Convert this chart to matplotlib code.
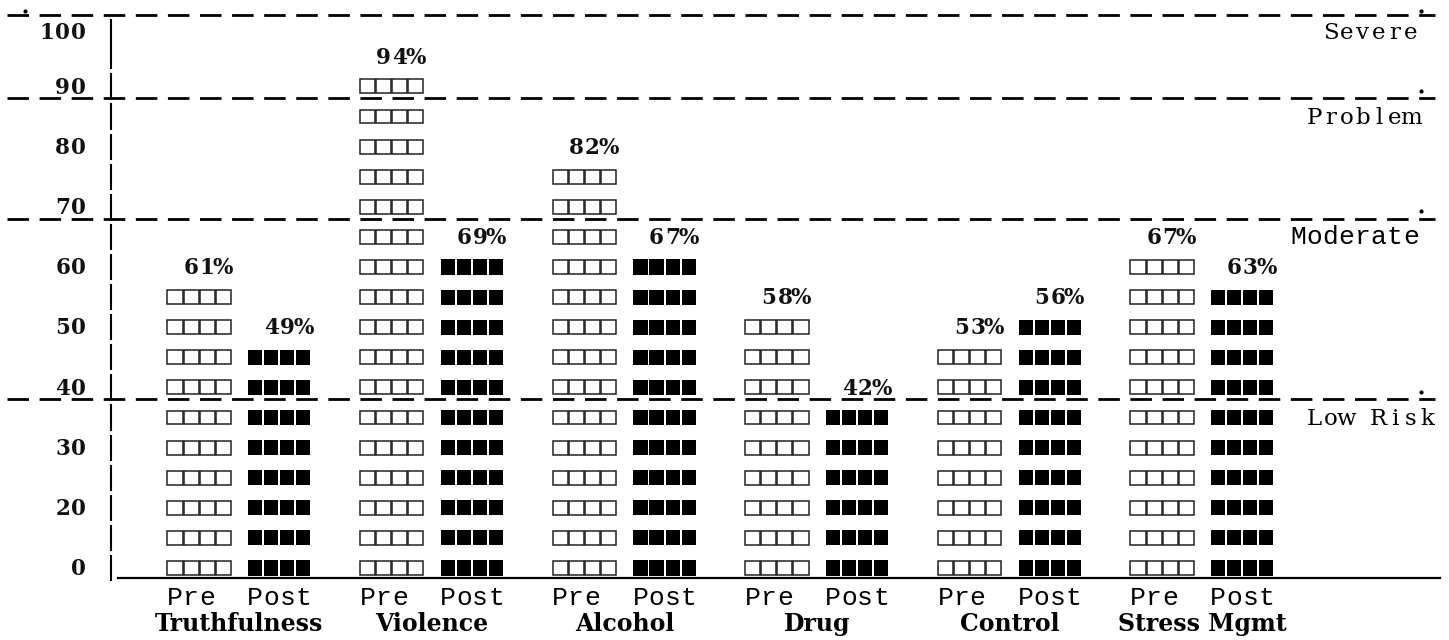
import matplotlib
matplotlib.use('Agg')
import matplotlib.pyplot as plt
from matplotlib.patches import Rectangle

# ── Data ─────────────────────────────────────────────────────
categories = ['Truthfulness', 'Violence', 'Alcohol', 'Drug', 'Control', 'Stress Mgmt']
pre_pct = [61, 94, 82, 58, 53, 67]
post_pct = [49, 69, 67, 42, 56, 63]
pre_boxes = [10, 17, 14, 9, 8, 11]     # box rows drawn for each bar
post_boxes = [8, 11, 11, 6, 9, 10]
tick_labels = ['0', '20', '30', '40', '50', '60', '70', '80', '90', '100']
tick_rows = [0, 2, 4, 6, 8, 10, 12, 14, 16, 18]
zone_labels = ['Severe', 'Problem', 'Moderate', 'Low Risk']
zone_rows = [18, 15, 11, 5]
cut_rows = [16, 12, 6]                  # dashed zone boundaries (90, 70, 40)

# ── Setup: one text cell = 1 x-unit, one text line = 1 y-unit ─
plt.rcParams['lines.scale_dashes'] = False
W, H = 1449, 640
CW, RH = 16.05, 30.1          # cell width / row height in pixels
X0, Y0 = 6.5, 568             # left edge of column 0, centre of row 0 (from top)

fig = plt.figure(figsize=(W / 100, H / 100), dpi=100)
ax = fig.add_axes([0, 0, 1, 1])
ax.set_xlim(-X0 / CW, (W - X0) / CW)
ax.set_ylim((Y0 - H) / RH, Y0 / RH)
ax.axis('off')

serif = dict(family='DejaVu Serif', fontsize=16.5, color='black')
nums = dict(family='DejaVu Serif', fontsize=15.5, fontweight='bold', color='#111111')
mono = dict(family='Liberation Mono', fontsize=19, color='black')
bold = dict(family='DejaVu Serif', fontsize=17, fontweight='bold', color='black')


def put(col, base, s, style):
    # one glyph per fixed-pitch cell, like a typed report
    for i, ch in enumerate(s):
        if ch != ' ':
            ax.text(col + i + 0.5, base, ch, ha='center', va='baseline', **style)


def rowy(r):
    # top text line sits a little lower than the regular pitch
    return 17.8 if r == 18 else r


def dot(x, y):
    ax.plot([x], [y], marker='o', ms=2.0, color='black', zorder=2)


# ── Dashed zone lines ────────────────────────────────────────
dash = (0, (15.5, 7.6))
for r in cut_rows:
    ax.plot([0, 89], [r - 0.4, r - 0.4], color='black', lw=2, linestyle=dash, zorder=1)
    dot(88.1, r - 0.14)
ax.plot([0, 89], [18.37, 18.37], color='black', lw=2, linestyle=dash, zorder=1)
dot(1.15, 18.52)
dot(88.1, 18.52)

# ── Y axis ───────────────────────────────────────────────────
for r in range(19):
    y = rowy(r)
    ax.plot([6.5, 6.5], [y - 0.4, y + 0.4], color='black', lw=1.5, zorder=2)
for lab, r in zip(tick_labels, tick_rows):
    put(5 - len(lab), rowy(r) - 0.24, lab, nums)
ax.plot([6.95, 89.3], [-0.33, -0.33], color='black', lw=1.6, zorder=2)

# ── Zone names (right side) ─────────────────────────────────
for lab, r in zip(zone_labels, zone_rows):
    end = 88 if lab == 'Low Risk' else 87
    style = mono if lab == 'Moderate' else serif
    put(end - len(lab) + 1, rowy(r) - 0.24, lab, style)

# ── Box bars ─────────────────────────────────────────────────
for g, name in enumerate(categories):
    p = 10 + 12 * g
    for start, n, pct, filled in [(p, pre_boxes[g], pre_pct[g], False),
                                  (p + 5, post_boxes[g], post_pct[g], True)]:
        for r in range(n):
            for c in range(4):
                if filled:
                    ax.add_patch(Rectangle((start + c + 0.06, r - 0.25), 0.88, 0.5,
                                           facecolor='black', edgecolor='none', zorder=3))
                else:
                    ax.add_patch(Rectangle((start + c + 0.03, r - 0.23), 0.94, 0.46,
                                           facecolor='white', edgecolor='#222222',
                                           lw=1.1, zorder=3))
        lab = f'{pct}%'
        put(start + 4 - len(lab), n - 0.24, lab, nums)
    put(p, -1.23, 'Pre', mono)
    put(p + 5, -1.23, 'Post', mono)
    ax.text(p + 4.5, -2.09, name, ha='center', va='baseline', **bold)

plt.savefig('out.png', dpi=100, facecolor='white')
